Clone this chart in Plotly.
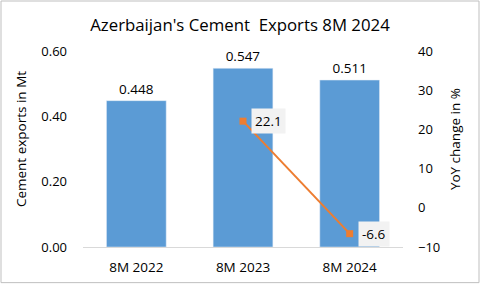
import plotly.graph_objects as go

categories = ["8M 2022", "8M 2023", "8M 2024"]
exports_mt = [0.448, 0.547, 0.511]
yoy_cats = ["8M 2023", "8M 2024"]
yoy_pct = [22.1, -6.6]

FONT = "Open Sans"
fig = go.Figure()
fig.add_trace(go.Bar(
    x=categories, y=exports_mt, marker_color="#5B9BD5", width=0.56,
    text=[f"{v:.3f}" for v in exports_mt], textposition="outside",
    textfont=dict(size=13.5, color="#000000", family=FONT), cliponaxis=False,
    showlegend=False, hoverinfo="skip"))
fig.add_trace(go.Scatter(
    x=yoy_cats, y=yoy_pct, yaxis="y2", mode="lines+markers",
    line=dict(color="#ED7D31", width=2),
    marker=dict(symbol="square", size=7, color="#ED7D31"),
    showlegend=False, hoverinfo="skip", cliponaxis=False))
for c, v in zip(yoy_cats, yoy_pct):
    fig.add_annotation(x=c, y=v, xref="x", yref="y2", text=f"{v:.1f}",
                       showarrow=False, xanchor="left", xshift=8,
                       bgcolor="#F2F2F2", borderpad=3,
                       font=dict(size=13.5, color="#000000", family=FONT))

pw, ph = 480 - 83 - 77, 288 - 51 - 39
fig.update_layout(
    width=480, height=288, margin=dict(l=83, r=77, t=51, b=39),
    paper_bgcolor="white", plot_bgcolor="white",
    font=dict(family=FONT, color="#000000"),
    title=dict(text="Azerbaijan's Cement\u00a0 Exports 8M 2024", x=0.5, xanchor="center",
               y=1 - 25 / 288, yanchor="middle", font=dict(size=16.8, family=FONT, color="#000000")),
    xaxis=dict(showline=True, linecolor="#D9D9D9", linewidth=1, ticks="",
               tickfont=dict(size=13.5, family=FONT), showgrid=False, ticklabelstandoff=8),
    yaxis=dict(range=[0, 0.6], dtick=0.2, tickformat=".2f", showgrid=False,
               zeroline=False, showline=False, ticks="", ticklabelstandoff=15,
               tickfont=dict(size=13, family=FONT)),
    yaxis2=dict(range=[-10, 40], dtick=10, overlaying="y", side="right", showgrid=False,
                zeroline=False, showline=False, ticks="", ticklabelstandoff=14,
                tickfont=dict(size=13, family=FONT)),
)
# axis titles (positioned like the reference, centred at y~140px)
yc = (288 - 39 - 140) / ph
fig.add_annotation(text="Cement exports in Mt", xref="paper", yref="paper",
                   x=(21 - 83) / pw, y=yc, textangle=-90, showarrow=False,
                   xanchor="center", yanchor="middle", font=dict(size=13.5, family=FONT))
fig.add_annotation(text="YoY change in %", xref="paper", yref="paper",
                   x=(455 - 83) / pw, y=yc, textangle=-90, showarrow=False,
                   xanchor="center", yanchor="middle", font=dict(size=13.5, family=FONT))
# outer border
fig.add_shape(type="rect", xref="paper", yref="paper",
              x0=(1 - 83) / pw, x1=(479 - 83) / pw, y0=-(39 - 3) / ph, y1=(ph + 51 - 0.5) / ph,
              line=dict(color="#BFBFBF", width=1), layer="below")
fig.write_html("out.html")
